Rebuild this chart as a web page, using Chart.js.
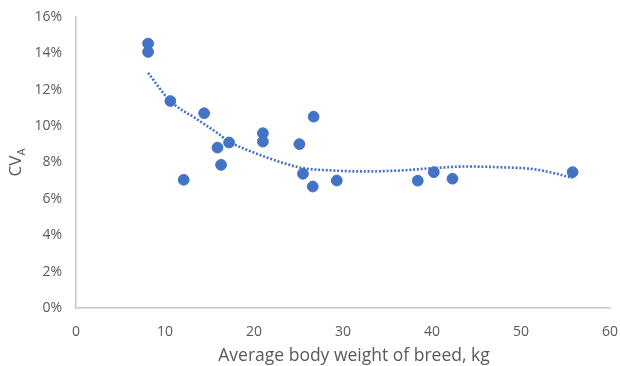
<!DOCTYPE html>
<html>
<head>
<meta charset="utf-8">
<script src="https://cdn.jsdelivr.net/npm/chart.js@4.4.0/dist/chart.umd.min.js"></script>
<style>
  html, body { margin: 0; padding: 0; background: #fff; }
  #wrap { width: 620px; height: 366px; }
</style>
</head>
<body>
<div id="wrap"><canvas id="cvChart"></canvas></div>
<script>
// body weight (kg) and CV_A (%)
const weightKg = [8.1, 8.1, 10.6, 14.4, 17.2, 15.9, 16.3, 12.1, 26.7, 21.0, 21.0, 25.1, 25.5, 26.6, 29.3, 38.4, 40.2, 42.3, 55.8];
const cvA      = [14.54, 14.08, 11.38, 10.71, 9.10, 8.82, 7.87, 7.05, 10.52, 9.61, 9.15, 9.01, 7.38, 6.68, 7.01, 7.00, 7.47, 7.11, 7.47];

// dotted trendline as seen in the figure
const trendX = [8.1, 10.6, 13.6, 15.8, 17.2, 19.7, 23.3, 25.5, 28.9, 31.9, 36.4, 40.1, 43.9, 47.6, 51.3, 54.0, 55.8];
const trendY = [12.93, 11.38, 10.38, 9.65, 9.15, 8.6, 7.97, 7.69, 7.56, 7.51, 7.56, 7.69, 7.78, 7.74, 7.64, 7.38, 7.15];

const xTicks = [0, 10, 20, 30, 40, 50, 60];
const yTicks = [0, 2, 4, 6, 8, 10, 12, 14, 16];

const blue = '#4472C4';
const grey = '#595959';
const fontFam = '"Open Sans", sans-serif';

// axis titles (y one needs a subscript A)
const axisTitles = {
    id: 'axisTitles',
    afterDraw(chart) {
        const ctx = chart.ctx;
        const cy = (chart.chartArea.top + chart.chartArea.bottom) / 2;
        ctx.save();
        ctx.fillStyle = grey;
        ctx.textBaseline = 'alphabetic';

        ctx.font = '17.5px ' + fontFam;
        ctx.textAlign = 'center';
        ctx.fillText('Average body weight of breed, kg', 354, 361);

        ctx.textAlign = 'left';
        ctx.translate(21, cy);
        ctx.rotate(-Math.PI / 2);
        ctx.font = '17px ' + fontFam;
        const w1 = ctx.measureText('CV').width;
        ctx.font = '11px ' + fontFam;
        const w2 = ctx.measureText('A').width;
        const start = -(w1 + w2) / 2;
        ctx.font = '17px ' + fontFam;
        ctx.fillText('CV', start, 0);
        ctx.font = '11px ' + fontFam;
        ctx.fillText('A', start + w1, 4);
        ctx.restore();
    }
};

new Chart(document.getElementById('cvChart'), {
    type: 'scatter',
    data: {
        datasets: [{
            label: 'CV_A',
            data: weightKg.map((x, i) => ({ x: x, y: cvA[i] })),
            backgroundColor: blue,
            borderColor: blue,
            pointRadius: 5.4,
            pointHoverRadius: 5.4,
            order: 1
        }, {
            label: 'trend',
            type: 'line',
            data: trendX.map((x, i) => ({ x: x, y: trendY[i] })),
            borderColor: blue,
            borderWidth: 2.6,
            borderDash: [2, 1.8],
            pointRadius: 0,
            fill: false,
            cubicInterpolationMode: 'monotone',
            order: 2
        }]
    },
    options: {
        responsive: true,
        maintainAspectRatio: false,
        animation: false,
        layout: { padding: { left: 0, right: 10, top: 17, bottom: 2 } },
        plugins: {
            legend: { display: false },
            tooltip: { enabled: false }
        },
        scales: {
            x: {
                type: 'linear',
                min: 0,
                max: 60,
                afterBuildTicks: (s) => { s.ticks = xTicks.map(v => ({ value: v })); },
                afterFit: (s) => { s.height = 56; s.paddingLeft = 0; s.paddingRight = 0; },
                grid: { display: false, drawTicks: false },
                border: { display: true, color: '#c8c8c8', width: 1.5 },
                ticks: { color: grey, font: { family: fontFam, size: 14 }, padding: 16, maxRotation: 0 },
                title: { display: false }
            },
            y: {
                min: 0,
                max: 16,
                afterBuildTicks: (s) => { s.ticks = yTicks.map(v => ({ value: v })); },
                afterFit: (s) => { s.width = 76; s.paddingTop = 0; s.paddingBottom = 0; },
                grid: { display: false, drawTicks: false },
                border: { display: true, color: '#c8c8c8', width: 1.5 },
                ticks: { color: grey, font: { family: fontFam, size: 14 }, padding: 14, callback: (v) => v + '%' }
            }
        }
    },
    plugins: [axisTitles]
});
</script>
</body>
</html>
